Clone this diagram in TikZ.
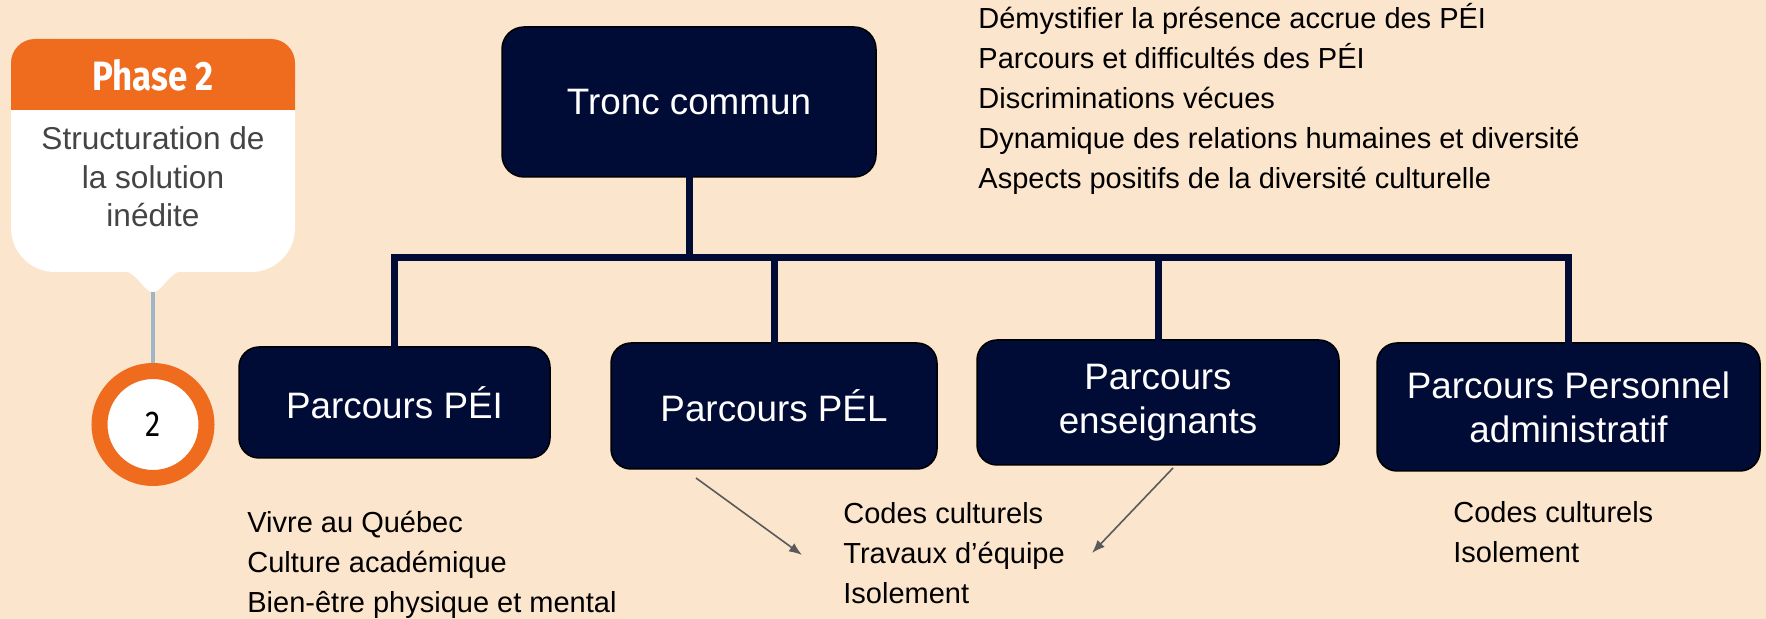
\documentclass[tikz,border=0pt]{standalone}
\usepackage{fontspec}
\setmainfont{Liberation Sans}
\newfontfamily\phasefont[FakeStretch=0.85]{Fira Sans}
\usetikzlibrary{positioning, arrows.meta}

\definecolor{peach}{HTML}{FCE5CD}
\definecolor{phaseorange}{HTML}{EF6B1E}
\definecolor{navy}{HTML}{000B36}
\definecolor{textgrey}{HTML}{444444}
\definecolor{arrowgrey}{HTML}{5A5A5A}
\definecolor{stemblue}{HTML}{9FB6C7}

\tikzset{
    pathbox/.style={draw=black, line width=0.75pt, fill=navy, text=white,
        rounded corners=10pt, align=center,
        font={\fontsize{18.4pt}{22pt}\selectfont}},
    link/.style={navy, line width=3.5pt, line cap=rect},
    listtext/.style={anchor=west, align=left, inner sep=0pt,
        font={\fontsize{14.5pt}{20pt}\selectfont}},
    pointer/.style={arrowgrey, line width=0.8pt, -{Latex[length=6.5pt, width=5pt]}}
}

\begin{document}
\begin{tikzpicture}[x=0.5pt, y=-0.5pt]
    % Background and page size
    \fill[peach] (0,0) rectangle (1766,619);
    \useasboundingbox (0,0) rectangle (1766,619);

    % Phase badge
    \fill[white, rounded corners=22pt] (11,39) rectangle (295,272);
    \fill[phaseorange, rounded corners=12pt] (11,39) rectangle (295,135);
    \fill[white] (11,110) rectangle (295,140);
    \fill[white] (124,270) .. controls (140,276) and (144,292) .. (153,292)
        .. controls (162,292) and (166,276) .. (182,270) -- cycle;
    \node (phase) at (153,75) {\phasefont\bfseries\fontsize{20.5pt}{24pt}\selectfont\color{white}Phase 2};
    \node[align=center, text=textgrey, font={\fontsize{15.8pt}{19.3pt}\selectfont}] (phasetext) at (153,177)
        {Structuration de\\la solution\\inédite};
    \coordinate (tip) at (153,292);

    % Step circle
    \node[circle, draw=phaseorange, line width=8pt, fill=white, minimum size=53.5pt,
        inner sep=0pt, font={\phasefont\fontsize{18pt}{20pt}\selectfont}] (step2) at (153,424.5) {2};
    \draw[stemblue, line width=2pt] (tip) -- (step2.north);

    % Boxes
    \node[pathbox, rounded corners=11pt, minimum width=187pt, minimum height=75pt] (tronc) at (689,102) {Tronc commun};
    \node[pathbox, minimum width=155.5pt, minimum height=55.5pt] (pei) at (394.5,402.5) {Parcours PÉI};
    \node[pathbox, minimum width=163pt, minimum height=63pt] (pel) at (774,406) {Parcours PÉL};
    \node[pathbox, minimum width=181pt, minimum height=62.5pt] (ens) at (1158,402.5) {Parcours\\enseignants};
    \node[pathbox, minimum width=191.5pt, minimum height=64pt] (admin) at (1568.5,407) {Parcours Personnel\\administratif};

    % Tree connectors
    \coordinate (bus) at (689,258);
    \draw[link] (tronc.south) -- (bus) -| (pei.north);
    \draw[link] (bus) -| (pel.north);
    \draw[link] (bus) -| (ens.north);
    \draw[link] (bus) -| (admin.north);

    % Lists
    \node[listtext] (troncitems) at (978,99)
        {Démystifier la présence accrue des PÉI\\Parcours et difficultés des PÉI\\Discriminations vécues\\Dynamique des relations humaines et diversité\\Aspects positifs de la diversité culturelle};
    \node[listtext] (peiitems) at (247,565)
        {Vivre au Québec\\Culture académique\\Bien-être physique et mental};
    \node[listtext] (shareditems) at (843,553)
        {Codes culturels\\Travaux d’équipe\\Isolement};
    \node[listtext] (adminitems) at (1453,532)
        {Codes culturels\\Isolement};

    % Arrows to the shared list
    \coordinate (pelfoot) at (696,478);
    \coordinate (ensfoot) at (1173,468);
    \coordinate (leftin) at (802,555);
    \coordinate (rightin) at (1092,553);
    \draw[pointer] (pelfoot) -- (leftin);
    \draw[pointer] (ensfoot) -- (rightin);
\end{tikzpicture}
\end{document}
